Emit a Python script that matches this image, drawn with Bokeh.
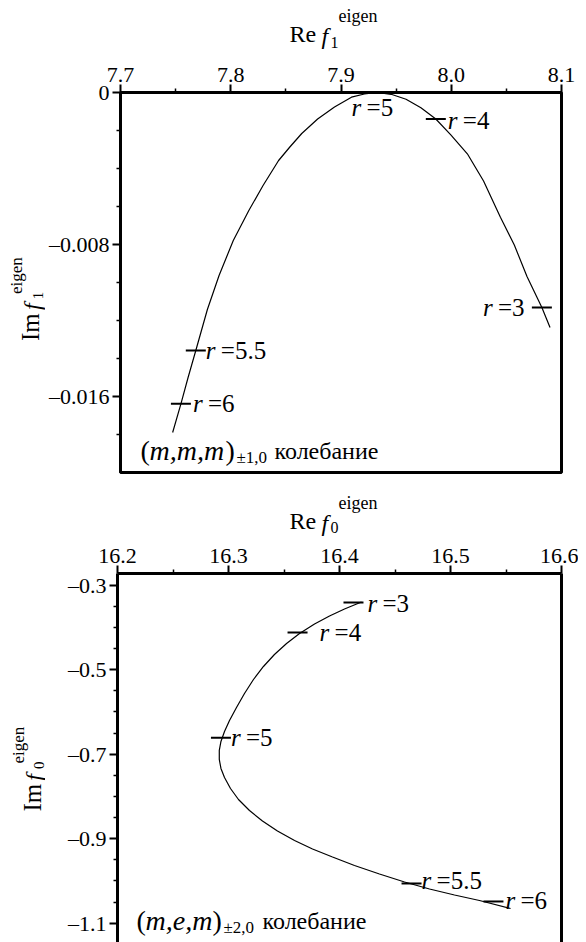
import math
from bokeh.plotting import figure
from bokeh.models import Range1d, FixedTicker, ColumnDataSource, Label, LinearAxis
from bokeh.layouts import column, row
from bokeh.embed import file_html
from bokeh.resources import INLINE
from bokeh.core.properties import value

SERIF = "Liberation Serif"

# ---------------- data: upper panel (m,m,m)±1,0 ----------------
top_x = [7.7473, 7.7548, 7.7613, 7.7683, 7.7788, 7.7894, 7.8023, 7.8164, 7.8293, 7.8434,
         7.8536, 7.8644, 7.8788, 7.8941, 7.9095, 7.9212, 7.9329, 7.9455, 7.9590, 7.9725,
         7.9860, 7.9996, 8.0146, 8.0293, 8.0446, 8.0572, 8.0687, 8.0822, 8.0896]
top_y = [-0.017895, -0.016384, -0.015000, -0.013579, -0.011421, -0.009632, -0.007789,
         -0.006211, -0.004895, -0.003579, -0.002868, -0.002158, -0.001395, -0.000763,
         -0.000247, -0.000079, 0.0, -0.000095, -0.000358, -0.000800, -0.001395, -0.002226,
         -0.003226, -0.004658, -0.006563, -0.008026, -0.009684, -0.011316, -0.012368]
top_r = ["6", "5.5", "5", "4", "3"]
top_rx = [7.7548, 7.7683, 7.9350, 7.9860, 8.0822]
top_ry = [-0.016384, -0.013579, 0.0, -0.001395, -0.011316]

top_xticks = [7.7, 7.8, 7.9, 8.0, 8.1]
top_xtick_labels = ["7.7", "7.8", "7.9", "8.0", "8.1"]
top_xminor = [7.75, 7.85, 7.95, 8.05]
top_yticks = [0.0, -0.008, -0.016]
top_ytick_labels = ["0", "\u20130.008", "\u20130.016"]
top_yminor = [-0.002, -0.004, -0.006, -0.010, -0.012, -0.014, -0.018]

# ---------------- data: lower panel (m,e,m)±2,0 ----------------
bot_x = [16.4198, 16.4045, 16.3910, 16.3775, 16.3640, 16.3523, 16.3414, 16.3315, 16.3225,
         16.3144, 16.3072, 16.3009, 16.2964, 16.2932, 16.2917, 16.2917, 16.2932, 16.2964,
         16.3018, 16.3090, 16.3189, 16.3306, 16.3441, 16.3595, 16.3757, 16.3937, 16.4135,
         16.4360, 16.4586, 16.4811, 16.5036, 16.5261, 16.5541]
bot_y = [-0.3398, -0.3563, -0.3729, -0.3918, -0.4143, -0.4380, -0.4640, -0.4924, -0.5232,
         -0.5563, -0.5895, -0.6202, -0.6463, -0.6699, -0.6912, -0.7125, -0.7338, -0.7551,
         -0.7812, -0.8072, -0.8333, -0.8581, -0.8818, -0.9043, -0.9244, -0.9433, -0.9634,
         -0.9836, -1.0025, -1.0191, -1.0333, -1.0463, -1.0652]
bot_r = ["3", "4", "5", "5.5", "6"]
bot_rx = [16.4126, 16.3622, 16.2932, 16.4649, 16.5387]
bot_ry = [-0.3409, -0.4119, -0.6611, -1.0060, -1.0486]

bot_xticks = [16.2, 16.3, 16.4, 16.5, 16.6]
bot_xtick_labels = ["16.2", "16.3", "16.4", "16.5", "16.6"]
bot_xminor = [16.25, 16.35, 16.45, 16.55]
bot_yticks = [-0.3, -0.5, -0.7, -0.9, -1.1]
bot_ytick_labels = ["\u20130.3", "\u20130.5", "\u20130.7", "\u20130.9", "\u20131.1"]
bot_yminor = [-0.35, -0.4, -0.45, -0.55, -0.6, -0.65, -0.75, -0.8, -0.85, -0.95, -1.0, -1.05]

# ---------------- layout (pixels, page has no margin) ----------------
LW = 45                 # width of the y-title strip
PW = 533                # width of a main figure
FL = 72                 # main figure left border  -> frame left at page x 117
FW = 444                # frame width
FRAME_LEFT = LW + FL
# upper block
T1_H = 52
P1_H, P1_BT, P1_FH = 428, 40, 380
# lower block
T2_H = 56
P2_H, P2_BT, P2_FH = 406, 37, 369
TOP_BLOCK = T1_H + P1_H            # 480

# label offsets (pixels) for the "r =" annotations
top_dx = [12, 10, -28, 12, -59]
top_dy = [0, 0, 15, 1, 0]
bot_dx = [14, 22, 10, 10, 12]
bot_dy = [1, 0, 0, -3, -1]


def style_axis(ax):
    ax.axis_line_width = 3
    ax.axis_line_color = "black"
    ax.major_tick_line_width = 2
    ax.major_tick_line_color = "black"
    ax.major_tick_out = 8
    ax.major_tick_in = 0
    ax.minor_tick_out = 4
    ax.minor_tick_in = 0
    ax.minor_tick_line_width = 1.5
    ax.minor_tick_line_color = "black"
    ax.major_label_text_font = SERIF
    ax.major_label_text_font_size = "22px"
    ax.major_label_text_color = "black"
    ax.major_label_standoff = 3


def main_fig(h, bt, fh, xr, yr):
    p = figure(width=PW, height=h, x_range=Range1d(*xr), y_range=Range1d(*yr),
               x_axis_location="above", output_backend="svg", toolbar_location=None,
               min_border_left=FL, min_border_right=PW - FL - FW,
               min_border_top=bt, min_border_bottom=h - bt - fh)
    p.xgrid.visible = False
    p.ygrid.visible = False
    return p


def band(w, h):
    p = figure(width=w, height=h, x_range=Range1d(0, w), y_range=Range1d(0, h),
               x_axis_location=None, y_axis_location=None, output_backend="svg",
               toolbar_location=None, min_border=0)
    p.grid.visible = False
    p.outline_line_color = None
    return p


def put_band(p, text, px, py, ox, obottom, size, style="normal", angle=0.0):
    p.text(x=[px - ox], y=[obottom - py], text=[text], angle=angle,
           text_font=value(SERIF), text_font_size=f"{size}px", text_font_style=style,
           text_color="black", text_baseline="middle", text_align="left")


def put_frame(p, text, px, py, frame_bottom_page, size, style="normal"):
    p.add_layout(Label(x=px - FRAME_LEFT, y=frame_bottom_page - py,
                       x_units="screen", y_units="screen", text=text,
                       text_font=SERIF, text_font_size=f"{size}px", text_font_style=style,
                       text_color="black", text_baseline="middle", text_align="left"))


def panel(p, xs, ys, rx, ry, rl, dx, dy, xt, xtl, xm, yt, ytl, ym):
    xa = p.xaxis[0]
    xa.ticker = FixedTicker(ticks=xt, minor_ticks=xm)
    xa.major_label_overrides = {t: l for t, l in zip(xt, xtl)}
    ya = p.yaxis[0]
    ya.ticker = FixedTicker(ticks=yt, minor_ticks=ym)
    ya.major_label_overrides = {t: l for t, l in zip(yt, ytl)}
    style_axis(xa)
    style_axis(ya)
    p.line(xs, ys, line_color="black", line_width=1.2)
    src = ColumnDataSource(dict(x=rx, y=ry, eq=["=" + r for r in rl],
                                dx=dx, dy=dy, dx2=[d + 15 for d in dx]))
    p.scatter("x", "y", source=src, marker="dash", size=20, line_width=2, line_color="black")
    p.text("x", "y", text=value("r"), source=src, x_offset="dx", y_offset="dy",
           text_font=value(SERIF), text_font_style="italic", text_font_size="25px",
           text_baseline="middle", text_align="left", text_color="black")
    p.text("x", "y", text="eq", source=src, x_offset="dx2", y_offset="dy",
           text_font=value(SERIF), text_font_size="25px",
           text_baseline="middle", text_align="left", text_color="black")


# ================= upper block =================
t1 = band(LW + PW, T1_H)
put_band(t1, "Re", 289, 33, 0, T1_H, 24)
put_band(t1, "f", 321, 35, 0, T1_H, 24, "italic")
put_band(t1, "1", 330, 42, 0, T1_H, 16)
put_band(t1, "eigen", 338, 15, 0, T1_H, 18)

l1 = band(LW, P1_H)
B1 = TOP_BLOCK
put_band(l1, "Im", 30, 332, 0, B1, 25, angle=math.pi / 2)
put_band(l1, "f", 31, 297, 0, B1, 24, "italic", angle=math.pi / 2)
put_band(l1, "1", 37, 285, 0, B1, 15, angle=math.pi / 2)
put_band(l1, "eigen", 16, 279, 0, B1, 17, angle=math.pi / 2)

p1 = main_fig(P1_H, P1_BT, P1_FH, (7.7, 8.1), (-0.020, 0.0))
p1.outline_line_color = "black"
p1.outline_line_width = 3
p1.outline_line_alpha = 1.0
panel(p1, top_x, top_y, top_rx, top_ry, top_r, top_dx, top_dy,
      top_xticks, top_xtick_labels, top_xminor, top_yticks, top_ytick_labels, top_yminor)
FB1 = T1_H + P1_BT + P1_FH      # 472
put_frame(p1, "(", 137, 450, FB1, 28)
put_frame(p1, "m,m,m", 146, 450, FB1, 28, "italic")
put_frame(p1, ")", 222, 450, FB1, 28)
put_frame(p1, "\u00b11,0", 233, 457, FB1, 17)
put_frame(p1, "колебание", 271, 450, FB1, 24)

# ================= lower block =================
t2 = band(LW + PW, T2_H)
put_band(t2, "Re", 289, 520, 0, TOP_BLOCK + T2_H, 24)
put_band(t2, "f", 321, 522, 0, TOP_BLOCK + T2_H, 24, "italic")
put_band(t2, "0", 330, 527, 0, TOP_BLOCK + T2_H, 16)
put_band(t2, "eigen", 338, 502, 0, TOP_BLOCK + T2_H, 18)

l2 = band(LW, P2_H)
B2 = TOP_BLOCK + T2_H + P2_H    # 942
put_band(l2, "Im", 32, 798, 0, B2, 25, angle=math.pi / 2)
put_band(l2, "f", 33, 764, 0, B2, 24, "italic", angle=math.pi / 2)
put_band(l2, "0", 38, 751, 0, B2, 15, angle=math.pi / 2)
put_band(l2, "eigen", 18, 745, 0, B2, 17, angle=math.pi / 2)

p2 = main_fig(P2_H, P2_BT, P2_FH, (16.2, 16.6), (-1.1457, -0.2723))
p2.outline_line_color = None
ra = LinearAxis(ticker=FixedTicker(ticks=[]), major_label_text_font_size="0px",
                axis_line_width=3, axis_line_color="black", major_tick_out=0, minor_tick_out=0)
p2.add_layout(ra, "right")
panel(p2, bot_x, bot_y, bot_rx, bot_ry, bot_r, bot_dx, bot_dy,
      bot_xticks, bot_xtick_labels, bot_xminor, bot_yticks, bot_ytick_labels, bot_yminor)
FB2 = B2
put_frame(p2, "(", 136, 920, FB2, 28)
put_frame(p2, "m,e,m", 145, 920, FB2, 28, "italic")
put_frame(p2, ")", 212, 920, FB2, 28)
put_frame(p2, "\u00b12,0", 223, 927, FB2, 17)
put_frame(p2, "колебание", 262, 920, FB2, 24)

layout = column(t1, row(l1, p1, spacing=0), t2, row(l2, p2, spacing=0), spacing=0)
open("out.html", "w").write(file_html(layout, INLINE))
